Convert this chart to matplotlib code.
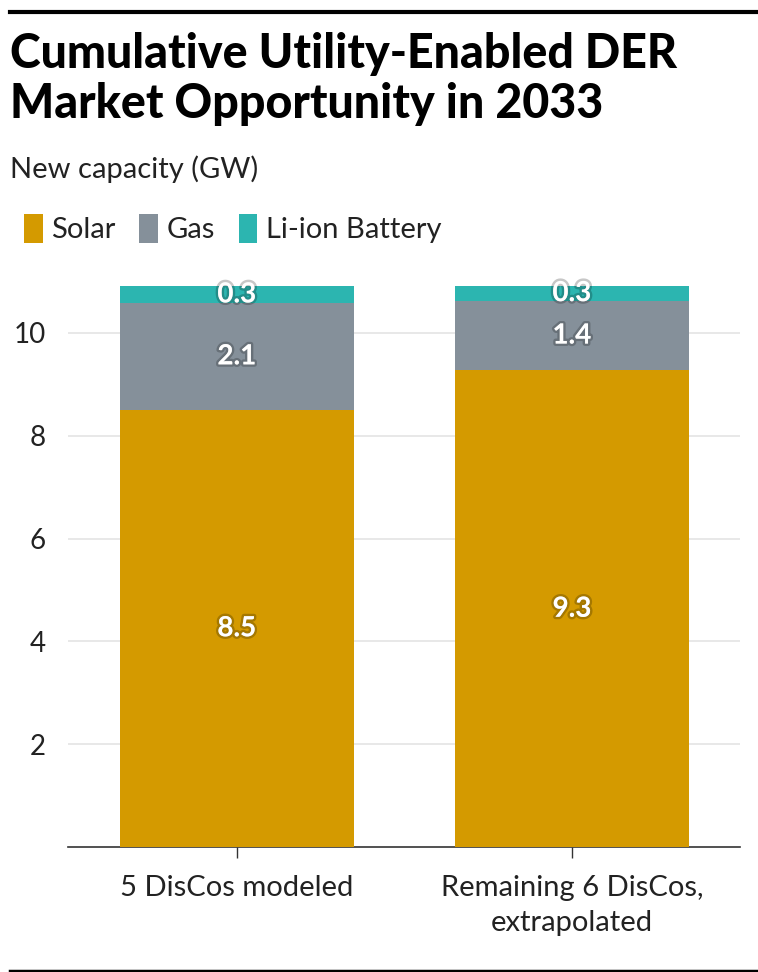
import numpy as np
from matplotlib import pyplot as plt
from matplotlib import patheffects as pe

# data (GW of new capacity)
categories = ['5 DisCos modeled', 'Remaining 6 DisCos,\nextrapolated']
series     = ['Solar', 'Gas', 'Li-ion Battery']
solar      = [8.51, 9.27]
gas        = [2.07, 1.36]
battery    = [0.34, 0.29]
yticks     = [2, 4, 6, 8, 10]

colors = ['#D49A00', '#85909A', '#2CB5B0']
body   = ['Lato', 'DejaVu Sans']

plt.close('all')
fig = plt.figure(figsize=(7.58, 9.72), dpi=100)
ax = fig.add_axes([0.0897, 0.1286, 0.8863, 0.5923])

x = np.arange(len(categories))
bottom = np.zeros(len(categories))
glow = [pe.withStroke(linewidth=3.5, foreground=(0, 0, 0, 0.22))]
for vals, name, c in zip([solar, gas, battery], series, colors):
    vals = np.array(vals)
    ax.bar(x, vals, 0.70, bottom=bottom, color=c, label=name, zorder=3)
    for xi, b, v in zip(x, bottom, vals):
        ax.text(xi, b + v / 2, f'{v:.1f}', ha='center', va='center',
                color='white', fontsize=20, fontweight='bold', family=body,
                path_effects=glow, zorder=4)
    bottom = bottom + vals

ax.set_xlim(-0.504, 1.501)
ax.set_ylim(0, 11.2)
ax.set_yticks(yticks)
ax.set_yticklabels([str(t) for t in yticks], family=body, fontsize=20, color='#222')
ax.yaxis.grid(True, color='#e4e4e4', linewidth=1.2, zorder=0)
ax.tick_params(axis='y', length=0, pad=16)
ax.set_xticks(x)
ax.set_xticklabels(categories, family=body, fontsize=21, color='#222', linespacing=1.45)
ax.tick_params(axis='x', length=8, width=1, color='#333', pad=12)
for s in ['top', 'right', 'left']:
    ax.spines[s].set_visible(False)
ax.spines['bottom'].set_color('#333')
ax.spines['bottom'].set_linewidth(1.2)

# header
fig.add_artist(plt.Line2D([0.013, 1.0], [0.9877, 0.9877], color='black', linewidth=3))
fig.add_artist(plt.Line2D([0.013, 1.0], [0.0015, 0.0015], color='black', linewidth=2.5))
fig.text(0.013, 0.930, 'Cumulative Utility-Enabled DER', family=body,
         fontweight='black', fontsize=33.5, va='baseline', ha='left')
fig.text(0.013, 0.8786, 'Market Opportunity in 2033', family=body,
         fontweight='black', fontsize=33.5, va='baseline', ha='left')
fig.text(0.013, 0.8169, 'New capacity (GW)', family=body, fontsize=21,
         va='baseline', ha='left', color='#222')

leg = fig.legend(loc='center left', bbox_to_anchor=(0.012, 0.765), ncol=3, frameon=False,
                 prop={'family': 'Lato', 'size': 21}, handlelength=0.65, handleheight=1.15,
                 handletextpad=0.3, columnspacing=0.8, borderpad=0)
for t in leg.get_texts():
    t.set_color('#222')

fig.savefig('out.png', dpi=100)
